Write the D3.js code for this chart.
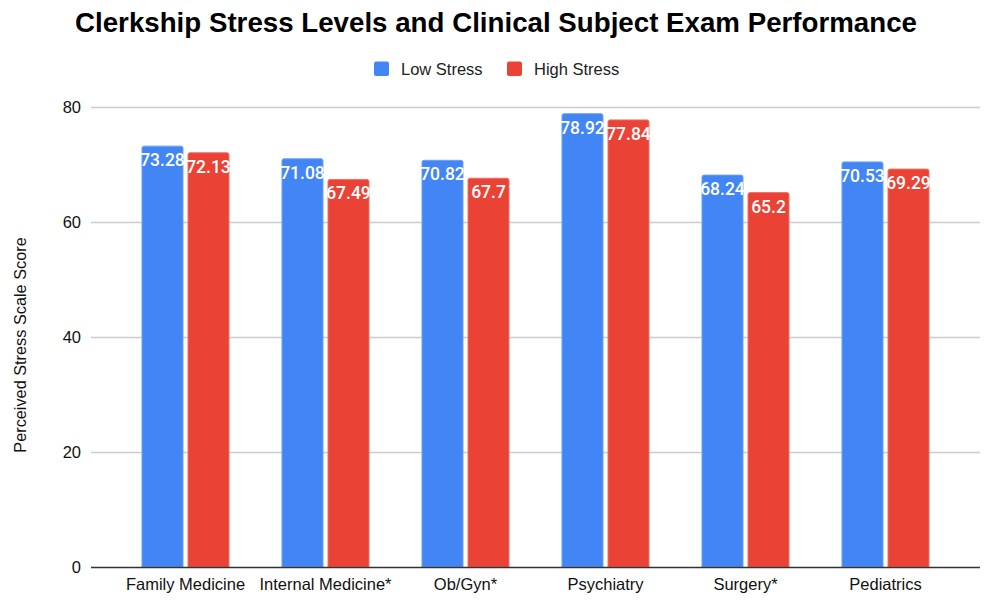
<!DOCTYPE html>
<html>
<head>
<meta charset="utf-8">
<script src="https://cdn.jsdelivr.net/npm/d3@7/dist/d3.min.js"></script>
<style>
  html, body { margin: 0; padding: 0; background: #fff; }
  svg { display: block; }
</style>
</head>
<body>
<svg id="chart" width="986" height="602"></svg>
<script>
const categories = ["Family Medicine", "Internal Medicine*", "Ob/Gyn*", "Psychiatry", "Surgery*", "Pediatrics"];
const seriesNames = ["Low Stress", "High Stress"];
const lowStress = [73.28, 71.08, 70.82, 78.92, 68.24, 70.53];
const highStress = [72.13, 67.49, 67.7, 77.84, 65.2, 69.29];
const yTicks = [0, 20, 40, 60, 80];
const colors = ["#4285F4", "#EA4335"];
const strokeColors = ["#6aa1f7", "#f0706a"];

const W = 986, H = 602;
const plot = { left: 91, right: 980, top: 107, bottom: 567 };
const svg = d3.select("#chart");
const font = "'Liberation Sans', Arial, Helvetica, sans-serif";

const data = categories.map((c, i) => ({ cat: c, values: [lowStress[i], highStress[i]] }));

const x0 = d3.scaleBand().domain(categories).range([plot.left, plot.right]).paddingInner(0).paddingOuter(0.175);
const x1 = d3.scaleBand().domain(seriesNames).range([0, x0.bandwidth()]).paddingInner(4/46).paddingOuter(0.565);
const y = d3.scaleLinear().domain([0, 80]).range([plot.bottom, plot.top]);

// Title
svg.append("text")
  .attr("x", 496).attr("y", 32)
  .attr("text-anchor", "middle")
  .attr("font-family", font).attr("font-weight", "bold").attr("font-size", 27)
  .attr("textLength", 842).attr("lengthAdjust", "spacingAndGlyphs")
  .attr("fill", "#000")
  .text("Clerkship Stress Levels and Clinical Subject Exam Performance");

// Legend
const legendItems = [{ name: seriesNames[0], x: 374 }, { name: seriesNames[1], x: 507 }];
legendItems.forEach((d, i) => {
  svg.append("rect").attr("x", d.x).attr("y", 61.5).attr("width", 15).attr("height", 14.5)
    .attr("rx", 2).attr("fill", colors[i]);
  svg.append("text").attr("x", d.x + 27).attr("y", 74.5)
    .attr("font-family", font).attr("font-size", 16.5).attr("fill", "#222")
    .text(d.name);
});

// Gridlines
const grid = svg.append("g");
grid.selectAll("line").data(yTicks.filter(t => t !== 0)).join("line")
  .attr("x1", plot.left).attr("x2", plot.right)
  .attr("y1", d => Math.round(y(d)) + 0.5).attr("y2", d => Math.round(y(d)) + 0.5)
  .attr("stroke", "#cccccc").attr("stroke-width", 1.3);

// Y axis tick labels
const yAxis = d3.axisLeft(y).tickValues(yTicks).tickSize(0).tickPadding(0);
const yg = svg.append("g").attr("transform", `translate(${plot.left - 10},0)`).call(yAxis);
yg.select(".domain").remove();
yg.selectAll("text").attr("font-family", font).attr("font-size", 16.5).attr("fill", "#111").attr("dy", "0.36em");

// Y axis title
svg.append("text")
  .attr("transform", `translate(26,${(plot.top + plot.bottom) / 2 + 8}) rotate(-90)`)
  .attr("text-anchor", "middle")
  .attr("font-family", font).attr("font-size", 16.3).attr("fill", "#111")
  .text("Perceived Stress Scale Score");

// Bars
function barPath(x, yTop, w, yBot, r) {
  return `M${x},${yBot} L${x},${yTop + r} Q${x},${yTop} ${x + r},${yTop} L${x + w - r},${yTop} Q${x + w},${yTop} ${x + w},${yTop + r} L${x + w},${yBot} Z`;
}
const groups = svg.append("g").selectAll("g").data(data).join("g")
  .attr("transform", d => `translate(${x0(d.cat)},0)`);

groups.selectAll("path").data(d => d.values.map((v, i) => ({ v, s: seriesNames[i], i }))).join("path")
  .attr("d", d => barPath(x1(d.s) + 0.5, y(d.v) + 0.5, x1.bandwidth() - 1, plot.bottom, 2))
  .attr("fill", d => colors[d.i])
  .attr("stroke", d => strokeColors[d.i]).attr("stroke-width", 1);

groups.selectAll("text").data(d => d.values.map((v, i) => ({ v, s: seriesNames[i], i }))).join("text")
  .attr("x", d => x1(d.s) + x1.bandwidth() / 2)
  .attr("y", d => y(d.v) + 20.5)
  .attr("text-anchor", "middle")
  .attr("font-family", "Roboto, 'Noto Sans', sans-serif").attr("font-size", 17.5).attr("font-weight", 500)
  .attr("fill", "#fff")
  .text(d => d.v);

// X axis
const xAxis = d3.axisBottom(x0).tickSize(0).tickPadding(0);
const xg = svg.append("g").attr("transform", `translate(0,${plot.bottom})`).call(xAxis);
xg.select(".domain").remove();
xg.selectAll("text").attr("font-family", font).attr("font-size", 16.5).attr("fill", "#111")
  .attr("dy", 0).attr("y", 23);

// Baseline
svg.append("line").attr("x1", plot.left).attr("x2", plot.right)
  .attr("y1", plot.bottom + 0.5).attr("y2", plot.bottom + 0.5)
  .attr("stroke", "#333").attr("stroke-width", 1.3);
</script>
</body>
</html>
